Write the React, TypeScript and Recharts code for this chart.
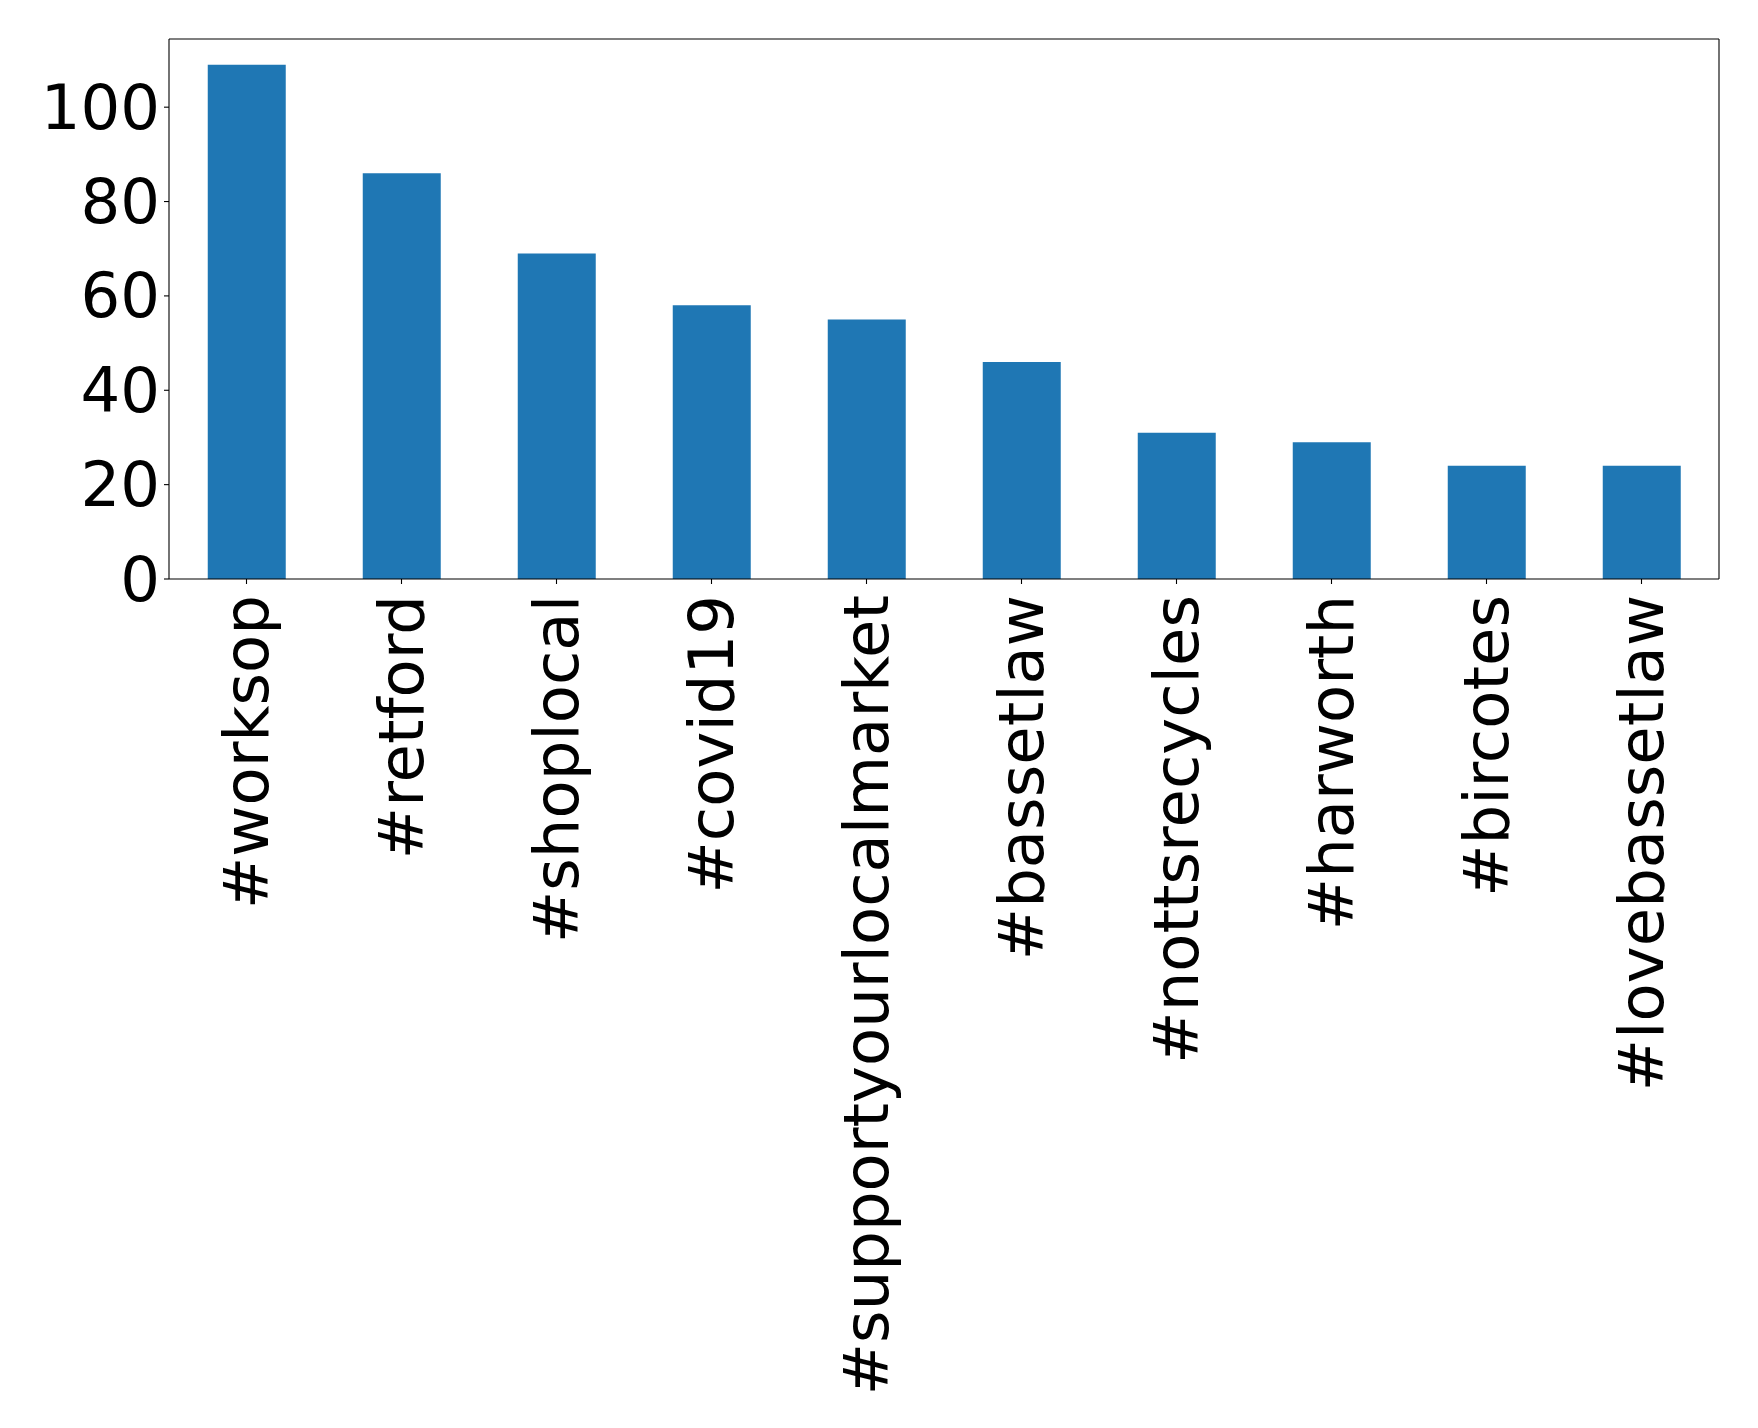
import React from "react"
import { Bar, BarChart, ReferenceLine, XAxis, YAxis } from "recharts"

// hashtag counts
const hashtags = [
  "#worksop",
  "#retford",
  "#shoplocal",
  "#covid19",
  "#supportyourlocalmarket",
  "#bassetlaw",
  "#nottsrecycles",
  "#harworth",
  "#bircotes",
  "#lovebassetlaw",
]
const counts = [109, 86, 69, 58, 55, 46, 31, 29, 24, 24]
const yTicks = [0, 20, 40, 60, 80, 100]
const yMax = 114.45

const data = hashtags.map((tag, i) => ({ tag, count: counts[i] }))

const FONT = "DejaVu Sans"
const FONT_SIZE = 62.5
const BLUE = "#1f77b4"

function RotatedTick(props: any) {
  const { x, y, payload } = props
  return (
    <g transform={`translate(${x},${y + 9})`}>
      <text
        transform="rotate(-90)"
        textAnchor="end"
        dominantBaseline="central"
        fontFamily={FONT}
        fontSize={FONT_SIZE}
        fill="#000"
      >
        {payload.value}
      </text>
    </g>
  )
}

function LeftTick(props: any) {
  const { x, y, payload } = props
  return (
    <text
      x={x - 2}
      y={y}
      textAnchor="end"
      dominantBaseline="central"
      fontFamily={FONT}
      fontSize={FONT_SIZE}
      fill="#000"
    >
      {payload.value}
    </text>
  )
}

export default function App() {
  return (
    <div style={{ position: "absolute", left: 0, top: 0, background: "#fff" }}>
      <BarChart
        width={1758}
        height={1428}
        data={data}
        margin={{ top: 39, right: 39, bottom: 0, left: 0 }}
        barCategoryGap="25%"
      >
        <XAxis
          dataKey="tag"
          interval={0}
          height={849}
          tick={<RotatedTick />}
          stroke="#000"
          tickLine={{ stroke: "#000", strokeWidth: 1.1 }}
          tickSize={5}
          axisLine={{ stroke: "#000", strokeWidth: 1.1 }}
        />
        <YAxis
          width={169}
          domain={[0, yMax]}
          ticks={yTicks}
          tick={<LeftTick />}
          stroke="#000"
          tickLine={{ stroke: "#000", strokeWidth: 1.1 }}
          tickSize={5}
          axisLine={{ stroke: "#000", strokeWidth: 1.1 }}
        />
        <Bar dataKey="count" fill={BLUE} isAnimationActive={false} />
        {/* top and right spines of the frame */}
        <ReferenceLine y={yMax} stroke="#000" strokeWidth={1.1} />
        <ReferenceLine
          x={hashtags[hashtags.length - 1]}
          position="end"
          stroke="#000"
          strokeWidth={1.1}
        />
      </BarChart>
    </div>
  )
}
